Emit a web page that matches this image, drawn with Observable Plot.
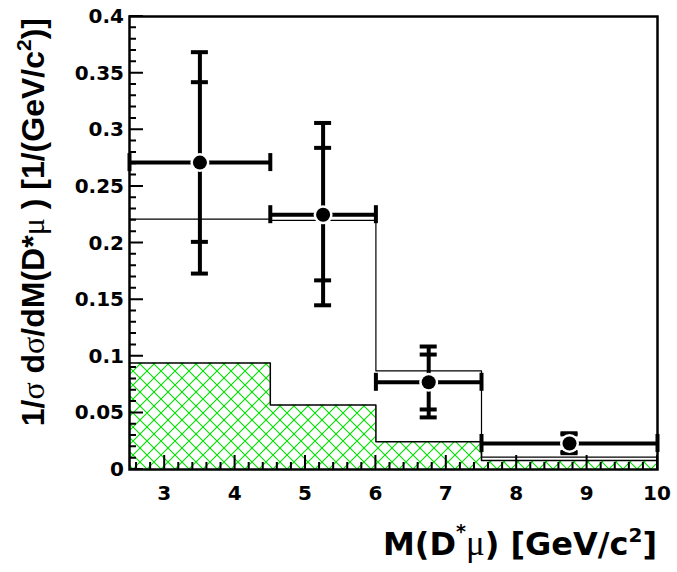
<!DOCTYPE html>
<html><head><meta charset="utf-8">
<script src="https://cdn.jsdelivr.net/npm/d3@7"></script>
<script src="https://cdn.jsdelivr.net/npm/@observablehq/plot@0.6"></script>
<style>body{margin:0;background:#fff} svg{display:block}</style>
</head><body><div id="chart"></div>
<script>
// ---- data ----
const binEdges = [2.5, 4.5, 6.0, 7.5, 10.0];
const mcValues = [0.221, 0.220, 0.087, 0.011];
const bkgValues = [0.094, 0.057, 0.0245, 0.008];
const dataX = [3.5, 5.25, 6.75, 8.75];
const dataXLo = [2.5, 4.5, 6.0, 7.5];
const dataXHi = [4.5, 6.0, 7.5, 10.0];
const dataY = [0.271, 0.225, 0.077, 0.023];
const statLo = [0.201, 0.167, 0.053, 0.0155];
const statHi = [0.342, 0.284, 0.1015, 0.031];
const totLo = [0.173, 0.145, 0.046, 0.0144];
const totHi = [0.3685, 0.306, 0.1086, 0.032];
const xTicks = [3, 4, 5, 6, 7, 8, 9, 10];
const xTickLabels = ["3", "4", "5", "6", "7", "8", "9", "10"];
const yTicks = [0, 0.05, 0.1, 0.15, 0.2, 0.25, 0.3, 0.35, 0.4];
const yTickLabels = ["0", "0.05", "0.1", "0.15", "0.2", "0.25", "0.3", "0.35", "0.4"];
const xMinor = d3.range(2.6, 9.99, 0.2).map(v => +v.toFixed(1));
const yMinor = d3.range(0.01, 0.399, 0.01).map(v => +v.toFixed(2));

// ---- layout ----
const W = 677, H = 572, ML = 129, MR = 20, MT = 16, MB = 103;
const FW = W - ML - MR, FH = H - MT - MB;
const xDom = [2.5, 10], yDom = [0, 0.4];
const pxX = (xDom[1] - xDom[0]) / FW;   // data units per pixel
const pxY = (yDom[1] - yDom[0]) / FH;
const capHalfW = 8.5 * pxX, capHalfH = 9 * pxY;

// ---- tables ----
const mcStep = binEdges.map((x, i) => ({x, y: mcValues[Math.min(i, mcValues.length - 1)]}));
const bkgStep = binEdges.map((x, i) => ({x, y: bkgValues[Math.min(i, bkgValues.length - 1)]}));
const points = dataX.map((x, i) => ({x, xlo: dataXLo[i], xhi: dataXHi[i], y: dataY[i],
  slo: statLo[i], shi: statHi[i], tlo: totLo[i], thi: totHi[i]}));
const vCaps = points.flatMap(p => [p.slo, p.shi, p.tlo, p.thi].map(y => ({x: p.x, y})));
const hCaps = points.flatMap(p => [{x: p.xlo, y: p.y}, {x: p.xhi, y: p.y}]);

const FONT = "'DejaVu Sans', sans-serif";

const plot = Plot.plot({
  width: W, height: H,
  marginLeft: ML, marginRight: MR, marginTop: MT, marginBottom: MB,
  x: {domain: xDom, label: null, axis: null},
  y: {domain: yDom, label: null, axis: null},
  style: {fontFamily: FONT, color: "#000", background: "#fff"},
  marks: [
    Plot.areaY(bkgStep, {x: "x", y: "y", curve: "step-after", fill: "url(#hatch)"}),
    Plot.lineY(bkgStep, {x: "x", y: "y", curve: "step-after", stroke: "#000", strokeWidth: 1.5}),
    Plot.lineY(mcStep, {x: "x", y: "y", curve: "step-after", stroke: "#000", strokeWidth: 1.2}),
    Plot.frame({stroke: "#000", strokeWidth: 2.5}),
    // error bars
    Plot.ruleY(points, {x1: "xlo", x2: "xhi", y: "y", stroke: "#000", strokeWidth: 4}),
    Plot.ruleX(points, {x: "x", y1: "tlo", y2: "thi", stroke: "#000", strokeWidth: 4}),
    Plot.ruleY(vCaps, {x1: d => d.x - capHalfW, x2: d => d.x + capHalfW, y: "y", stroke: "#000", strokeWidth: 4}),
    Plot.ruleX(hCaps, {x: "x", y1: d => d.y - capHalfH, y2: d => d.y + capHalfH, stroke: "#000", strokeWidth: 4}),
    Plot.dot(points, {x: "x", y: "y", r: 9.5, fill: "#fff"}),
    Plot.dot(points, {x: "x", y: "y", r: 7, fill: "#000"})
  ]
});

document.getElementById("chart").appendChild(plot);
const svg = d3.select(plot);
const sx = plot.scale("x"), sy = plot.scale("y");
const X = v => sx.apply(v), Y = v => sy.apply(v);

// hatch pattern
const pat = svg.append("defs").append("pattern").attr("id", "hatch").attr("patternUnits", "userSpaceOnUse")
  .attr("width", 14).attr("height", 14);
pat.append("path").attr("d", "M0,0L14,14M0,14L14,0")
  .attr("stroke", "#00e000").attr("stroke-width", 1.1).attr("fill", "none");

// inward ticks (from the plot's own scales)
const tk = svg.append("g").attr("stroke", "#000").attr("stroke-width", 2).attr("fill", "none");
const tickPath = [];
xMinor.forEach(v => tickPath.push(`M${X(v)},${Y(0)}v-7`));
xTicks.forEach(v => tickPath.push(`M${X(v)},${Y(0)}v-14`));
yMinor.forEach(v => tickPath.push(`M${X(2.5)},${Y(v)}h7`));
yTicks.forEach(v => tickPath.push(`M${X(2.5)},${Y(v)}h14`));
tk.append("path").attr("d", tickPath.join(""));

// tick labels
const xl = svg.append("g").attr("font-family", FONT).attr("font-size", 20).attr("font-weight", "bold")
  .attr("text-anchor", "middle").attr("fill", "#000");
xTicks.forEach((v, i) => xl.append("text").attr("x", X(v)).attr("y", Y(0) + 31).attr("font-weight", "bold").text(xTickLabels[i]));
const yl = svg.append("g").attr("font-family", FONT).attr("font-size", 20).attr("font-weight", "bold")
  .attr("text-anchor", "end").attr("fill", "#000");
yTicks.forEach((v, i) => yl.append("text").attr("x", X(2.5) - 5).attr("y", Y(v) + 7).attr("font-weight", "bold").text(yTickLabels[i]));

// x title
const xt = svg.append("text").attr("x", 657).attr("y", 555).attr("text-anchor", "end")
  .attr("font-size", 32).attr("font-weight", "bold").attr("font-family", FONT);
xt.append("tspan").text("M(D");
xt.append("tspan").attr("dy", -17).attr("font-size", 19).text("*");
xt.append("tspan").attr("dy", 17).attr("font-family", "'Liberation Serif', serif").attr("font-weight", "normal").attr("font-size", 35).text("μ");
xt.append("tspan").text(") [GeV/c");
xt.append("tspan").attr("dy", -13).attr("font-size", 20).text("2");
xt.append("tspan").attr("dy", 13).text("]");

// y title
const yt = svg.append("text").attr("transform", "translate(44,18) rotate(-90)").attr("text-anchor", "end")
  .attr("font-size", 32).attr("font-weight", "bold").attr("font-family", "'Liberation Sans', Arial, sans-serif");
yt.append("tspan").text("1/");
yt.append("tspan").attr("font-family", "'Liberation Serif', serif").attr("font-weight", "normal").text("σ");
yt.append("tspan").text(" d");
yt.append("tspan").attr("font-family", "'Liberation Serif', serif").attr("font-weight", "normal").text("σ");
yt.append("tspan").text("/dM(D*");
yt.append("tspan").attr("font-family", "'Liberation Serif', serif").attr("font-weight", "normal").text("μ");
yt.append("tspan").text(" ) [1/(GeV/c");
yt.append("tspan").attr("dy", -13).attr("font-size", 21).text("2");
yt.append("tspan").attr("dy", 13).text(")]");
</script>
</body></html>
